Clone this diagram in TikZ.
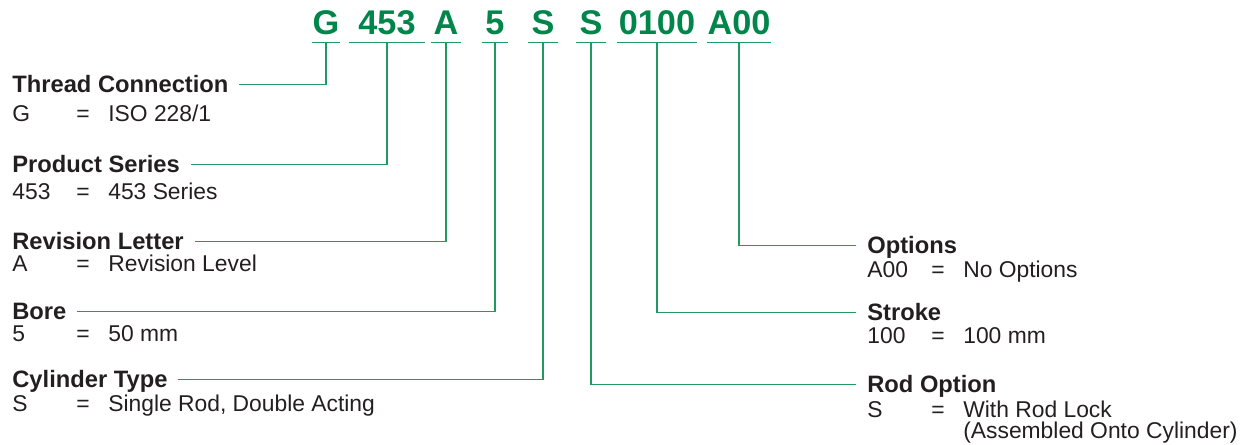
\documentclass[tikz,border=0pt]{standalone}
\usepackage{fontspec}
\setmainfont{Liberation Sans}
\usepackage{xcolor}
\usepackage{tikz}
\usetikzlibrary{positioning}
\definecolor{ordGreen}{HTML}{00864A}
\definecolor{ordLine}{HTML}{1F9A62}
\definecolor{ordInk}{HTML}{231F20}
\newlength{\keyw}\setlength{\keyw}{12.8mm}
\newlength{\eqw}\setlength{\eqw}{6.4mm}
\newcommand{\ordentry}[2]{\makebox[\keyw][l]{#1}\makebox[\eqw][l]{=}#2}
\tikzset{
    code/.style={font=\fontsize{19.5}{20}\selectfont\bfseries, text=ordGreen, anchor=base, inner xsep=0pt, inner ysep=4pt, text depth=0pt},
    title/.style={font=\fontsize{13.5}{14}\selectfont\bfseries, text=ordInk, inner sep=0pt, text height=9.5pt, text depth=0pt},
    entry/.style={font=\fontsize{13}{12}\selectfont, text=ordInk, anchor=base west, inner sep=0pt, align=left},
    underline/.style={draw=ordLine, line width=0.7pt},
    link/.style={draw=ordLine, line width=0.7pt, shorten >=6pt}
}
\begin{document}
\begin{tikzpicture}[x=0.02cm, y=-0.02cm]
\useasboundingbox (0,0) rectangle (1251,445);
% ordering code
\node[code, minimum width=0.52cm] (cG) at (326,35) {G};
\node[code, minimum width=1.5cm] (cSeries) at (387,35) {453};
\node[code, minimum width=0.58cm] (cRev) at (446,35) {A};
\node[code, minimum width=0.5cm] (cBore) at (495,35) {5};
\node[code, minimum width=0.58cm] (cType) at (543,35) {S};
\node[code, minimum width=0.58cm] (cRod) at (591,35) {S};
\node[code, minimum width=1.6cm] (cStroke) at (657,35) {0100};
\node[code, minimum width=1.24cm] (cOpt) at (739,35) {A00};
\foreach \c in {cG,cSeries,cRev,cBore,cType,cRod,cStroke,cOpt}
    \draw[underline] (\c.south west) -- (\c.south east);
% left column
\node[title, anchor=base west] (tThread) at (12,93) {Thread Connection};
\node[entry] (eThread) at (12,122) {\ordentry{G}{ISO 228/1}};
\node[title, anchor=base west] (tSeries) at (12,173) {Product Series};
\node[entry] (eSeries) at (12,200) {\ordentry{453}{453 Series}};
\node[title, anchor=base west] (tRev) at (12,250) {Revision Letter};
\node[entry] (eRev) at (12,272) {\ordentry{A}{Revision Level}};
\node[title, anchor=base west] (tBore) at (12,320) {Bore};
\node[entry] (eBore) at (12,342) {\ordentry{5}{50 mm}};
\node[title, anchor=base west] (tType) at (12,388) {Cylinder Type};
\node[entry] (eType) at (12,412) {\ordentry{S}{Single Rod, Double Acting}};
% right column
\node[title, anchor=base west] (tOpt) at (867,254) {Options};
\node[entry] (eOpt) at (867,278) {\ordentry{A00}{No Options}};
\node[title, anchor=base west] (tStroke) at (867,321) {Stroke};
\node[entry] (eStroke) at (867,344) {\ordentry{100}{100 mm}};
\node[title, anchor=base west] (tRod) at (867,393) {Rod Option};
\node[entry] (eRod) at (867,439) {\ordentry{S}{With Rod Lock}\\\hspace*{\keyw}\hspace*{\eqw}(Assembled Onto Cylinder)};
% leaders
\draw[link] (cG.south) |- (tThread.east);
\draw[link] (cSeries.south) |- (tSeries.east);
\draw[link] (cRev.south) |- (tRev.east);
\draw[link] (cBore.south) |- (tBore.east);
\draw[link] (cType.south) |- (tType.east);
\draw[link] (cRod.south) |- (tRod.west);
\draw[link] (cStroke.south) |- (tStroke.west);
\draw[link] (cOpt.south) |- (tOpt.west);
\end{tikzpicture}
\end{document}
